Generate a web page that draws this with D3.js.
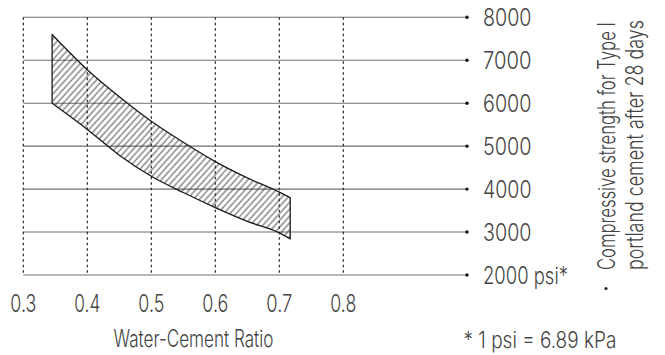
<!DOCTYPE html>
<html><head><meta charset="utf-8">
<script src="https://cdn.jsdelivr.net/npm/d3@7"></script>
<style>
html,body{margin:0;padding:0;background:#fff;}
svg{display:block;}
text{font-family:Inter,Lato,Roboto,sans-serif;font-weight:300;fill:#444;}
</style></head>
<body>
<svg id="chart" width="665" height="355"></svg>
<script>
// ---- data ----
const xTicks = [0.3, 0.4, 0.5, 0.6, 0.7, 0.8];
const xTickLabels = ["0.3", "0.4", "0.5", "0.6", "0.7", "0.8"];
const yTicks = [2000, 3000, 4000, 5000, 6000, 7000, 8000];
const yTickLabels = ["2000 psi*", "3000", "4000", "5000", "6000", "7000", "8000"];
const bandRatio = [0.345, 0.4, 0.45, 0.5, 0.55, 0.6, 0.65, 0.7, 0.717];
const upperStrength = [7600, 6780, 6150, 5580, 5090, 4640, 4260, 3930, 3800];
const lowerStrength = [6000, 5390, 4790, 4300, 3920, 3570, 3250, 2980, 2840];
const xTitle = "Water-Cement Ratio";
const sideLines = ["Compressive strength for Type I", "portland cement after 28 days"];
const footnote = "*  1 psi = 6.89 kPa";

// ---- layout ----
const svg = d3.select("#chart");
const x = d3.scaleLinear().domain([0.3, 0.8]).range([23.3, 343.3]);
const y = d3.scaleLinear().domain([2000, 8000]).range([275, 17.3]);
const gridRight = 467;

// tall, narrow label: fit natural width to target, stretch to cap height
function label(parent, str, tx, ty, width, cap, anchor, rotate) {
  const base = 20;
  const t = parent.append("text").attr("font-size", base).text(str);
  const nat = t.node().getComputedTextLength();
  const fs = base * width / nat;
  t.attr("font-size", fs);
  const sy = cap / (0.72 * fs);
  let dx = 0;
  if (anchor === "middle") dx = -width / 2;
  t.attr("transform", `translate(${tx},${ty})` + (rotate ? ` rotate(${rotate})` : "") + ` translate(${dx},0) scale(1,${sy})`);
  return t;
}

// hatch pattern
const defs = svg.append("defs");
const pat = defs.append("pattern").attr("id", "hatch")
  .attr("patternUnits", "userSpaceOnUse").attr("width", 4.6).attr("height", 10)
  .attr("patternTransform", "rotate(42)");
pat.append("line").attr("x1", 1).attr("x2", 1).attr("y1", 0).attr("y2", 10)
  .attr("stroke", "#2a2a2a").attr("stroke-width", 0.85);

// horizontal grid lines
svg.append("g").selectAll("line").data(yTicks).join("line")
  .attr("x1", x(0.3)).attr("x2", gridRight)
  .attr("y1", d => y(d)).attr("y2", d => y(d))
  .attr("stroke", "#707070").attr("stroke-width", 1.1);
svg.append("g").selectAll("circle").data(yTicks).join("circle")
  .attr("cx", gridRight).attr("cy", d => y(d)).attr("r", 1.7).attr("fill", "#111");

// vertical dashed grid lines
svg.append("g").selectAll("line").data(xTicks).join("line")
  .attr("x1", d => x(d)).attr("x2", d => x(d))
  .attr("y1", y(8000)).attr("y2", y(2000))
  .attr("stroke", "#222").attr("stroke-width", 1.2)
  .attr("stroke-dasharray", "2.5,3");

// band
const bandData = bandRatio.map((r, i) => [r, upperStrength[i], lowerStrength[i]]);
const area = d3.area()
  .x(d => x(d[0]))
  .y0(d => y(d[2])).y1(d => y(d[1]))
  .curve(d3.curveMonotoneX);
svg.append("path").datum(bandData)
  .attr("d", area)
  .attr("fill", "url(#hatch)")
  .attr("stroke", "#1a1a1a").attr("stroke-width", 1.3)
  .attr("stroke-linejoin", "round");

// x tick labels
const gx = svg.append("g");
xTicks.forEach((d, i) => label(gx, xTickLabels[i], x(d), 311.5, 26, 17.5, "middle"));

// y tick labels
const gy = svg.append("g");
yTicks.forEach((d, i) => label(gy, yTickLabels[i], 483, y(d) + 8.5,
  yTickLabels[i].length > 4 ? 85 : 48.5, 17));

// x title
label(svg, xTitle, 113.5, 346.5, 160, 17);

// footnote
label(svg, footnote, 463.5, 347.5, 153, 16);

// side title (rotated)
const sideX = [615, 643];
const sideLen = [248, 250];
const gs = svg.append("g");
sideLines.forEach((s, i) => label(gs, s, sideX[i], 270, sideLen[i], 17, "start", -90));
svg.append("circle").attr("cx", 606).attr("cy", 288.5).attr("r", 1.6).attr("fill", "#222");
</script>
</body></html>
